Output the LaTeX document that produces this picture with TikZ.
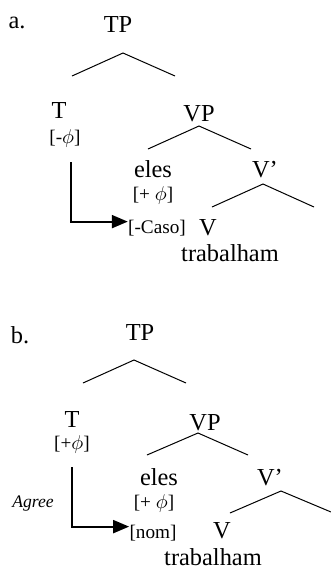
\documentclass[tikz,border=0pt]{standalone}
\usepackage{fontspec}
\setmainfont{Liberation Serif}
\usetikzlibrary{arrows.meta}

\begin{document}
\begin{tikzpicture}[
    x=0.5pt,y=-0.5pt,
    lab/.style ={inner sep=0pt,anchor=base,font=\fontsize{12.2}{14}\selectfont},
    feat/.style={inner sep=0pt,anchor=base,font=\fontsize{9.6}{11}\selectfont},
    br/.style  ={line width=0.5pt},
    agr/.style ={line width=1pt,-{Triangle[length=8pt,width=6.5pt]}},
    ]
    \useasboundingbox (0,0) rectangle (331,569);

    % (a)
    \node[lab] (la)  at (17,28)   {a.};
    \node[lab] (tpa) at (118,32)  {TP};
    \node[lab] (ta)  at (59,118)  {T};
    \node[feat] (tfa) at (65,143) {[-$\phi$]};
    \node[lab] (vpa) at (199,121) {VP};
    \node[lab] (elesa) at (153,177) {eles};
    \node[feat] (efa) at (153,200) {[+ $\phi$]};
    \node[lab] (vba) at (265,177) {V'};
    \node[feat] (caso) at (157,233) {[-Caso]};
    \node[lab] (va)  at (208,235) {V};
    \node[lab] (trba) at (230,261) {trabalham};

    \coordinate (tpa0) at (123,53);  \coordinate (tpa1) at (72,76);  \coordinate (tpa2) at (175,76);
    \coordinate (vpa0) at (199,126); \coordinate (vpa1) at (148,149); \coordinate (vpa2) at (251,149);
    \coordinate (vba0) at (263,184); \coordinate (vba1) at (212,207); \coordinate (vba2) at (314,207);
    \draw[br] (tpa1) -- (tpa0) -- (tpa2);
    \draw[br] (vpa1) -- (vpa0) -- (vpa2);
    \draw[br] (vba1) -- (vba0) -- (vba2);
    \coordinate (arra) at (71,162);
    \draw[agr] (arra) |- ([yshift=3pt]caso.west);

    % (b)
    \node[lab] (lb)  at (20,343)  {b.};
    \node[lab] (tpb) at (140,340) {TP};
    \node[lab] (tb)  at (72,427)  {T};
    \node[feat] (tfb) at (72,449) {[+$\phi$]};
    \node[lab] (vpb) at (205,430) {VP};
    \node[lab] (elesb) at (159,485) {eles};
    \node[feat] (efb) at (154,508) {[+ $\phi$]};
    \node[lab] (vbb) at (270,485) {V'};
    \node[feat] (nom) at (153,538) {[nom]};
    \node[lab] (vb)  at (222,538) {V};
    \node[lab] (trbb) at (213,565) {trabalham};
    \node[feat,font=\fontsize{8.8}{10}\selectfont\itshape] (agree) at (33,507) {Agree};

    \coordinate (tpb0) at (134,360); \coordinate (tpb1) at (83,383);  \coordinate (tpb2) at (186,383);
    \coordinate (vpb0) at (198,433); \coordinate (vpb1) at (147,455); \coordinate (vpb2) at (248,455);
    \coordinate (vbb0) at (281,491); \coordinate (vbb1) at (230,513); \coordinate (vbb2) at (331,512);
    \draw[br] (tpb1) -- (tpb0) -- (tpb2);
    \draw[br] (vpb1) -- (vpb0) -- (vpb2);
    \draw[br] (vbb1) -- (vbb0) -- (vbb2);
    \coordinate (arrb) at (72,467);
    \draw[agr] (arrb) |- ([yshift=3pt]nom.west);
\end{tikzpicture}
\end{document}
